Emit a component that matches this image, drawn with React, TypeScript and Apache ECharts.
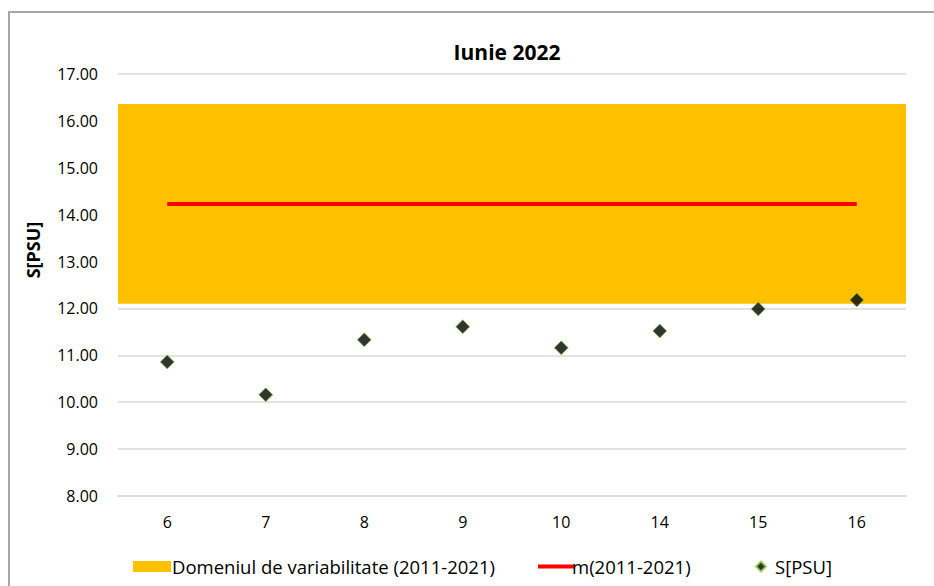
import React, { useEffect, useRef } from "react";
import * as echarts from "echarts";

const categories = ["6", "7", "8", "9", "10", "14", "15", "16"];
const salinity = [10.86, 10.16, 11.33, 11.61, 11.16, 11.52, 11.99, 12.18];
const meanValues = [14.23, 14.23, 14.23, 14.23, 14.23, 14.23, 14.23, 14.23];
const bandLow = 12.1;
const bandHigh = 16.36;
const yTicks = { min: 8, max: 17, interval: 1 };

const BAND = "Domeniul de variabilitate (2011-2021)";
const MEAN = "m(2011-2021)";
const PTS = "S[PSU]";
const FONT = "Open Sans";

export default function App() {
  const ref = useRef<HTMLDivElement>(null);
  useEffect(() => {
    document.body.style.margin = "0";
    const chart = echarts.init(ref.current!, null, { renderer: "svg" });
    const legendText = { fontFamily: FONT, fontSize: 18.5, color: "#000" };
    chart.setOption({
      animation: false,
      backgroundColor: "#fff",
      title: {
        text: "Iunie 2022",
        left: 502,
        top: 36,
        textAlign: "center",
        textStyle: { fontFamily: FONT, fontSize: 21, fontWeight: "bold", color: "#000" },
      },
      graphic: [
        {
          type: "rect",
          shape: { x: 9, y: 12, width: 1000, height: 700 },
          style: { fill: "none", stroke: "#a6a6a6", lineWidth: 2 },
          silent: true,
        },
        {
          type: "text",
          x: 33,
          y: 250,
          rotation: Math.PI / 2,
          style: {
            text: "S[PSU]",
            fontFamily: FONT,
            fontSize: 18,
            fontWeight: "bold",
            fill: "#000",
            textAlign: "center",
            textVerticalAlign: "middle",
          },
        },
      ],
      legend: [
        {
          data: [{ name: BAND, icon: "rect" }],
          left: 128,
          top: 552,
          itemWidth: 38,
          itemHeight: 11,
          textStyle: { ...legendText, padding: [0, 0, 0, -4] },
          selectedMode: false,
        },
        {
          data: [{ name: MEAN, icon: "rect" }],
          left: 533,
          top: 552,
          itemWidth: 37,
          itemHeight: 4,
          textStyle: { ...legendText, padding: [0, 0, 0, -8] },
          selectedMode: false,
        },
        {
          data: [{ name: PTS, icon: "diamond" }],
          left: 750,
          top: 552,
          itemWidth: 10,
          itemHeight: 10,
          textStyle: { ...legendText, padding: [0, 0, 0, 4] },
          selectedMode: false,
        },
      ],
      grid: { left: 118, right: 28, top: 74, bottom: 90, containLabel: false },
      xAxis: {
        type: "category",
        data: categories,
        boundaryGap: true,
        axisLine: { show: true, lineStyle: { color: "#d9d9d9", width: 1.5 } },
        axisTick: { show: false },
        axisLabel: { fontFamily: FONT, fontSize: 16, color: "#000", margin: 18 },
      },
      yAxis: {
        type: "value",
        min: yTicks.min,
        max: yTicks.max,
        interval: yTicks.interval,
        axisLine: { show: false },
        axisTick: { show: false },
        splitLine: { show: true, lineStyle: { color: "#d9d9d9", width: 1.5 } },
        axisLabel: {
          fontFamily: FONT,
          fontSize: 16,
          color: "#000",
          margin: 20,
          formatter: (v: number) => v.toFixed(2),
        },
      },
      series: [
        {
          name: BAND,
          type: "line",
          data: [],
          itemStyle: { color: "#ffc000" },
          lineStyle: { color: "#ffc000" },
          markArea: {
            silent: true,
            itemStyle: { color: "#ffc000", opacity: 1 },
            data: [[{ yAxis: bandLow }, { yAxis: bandHigh }]],
          },
          z: 1,
        },
        {
          name: MEAN,
          type: "line",
          data: meanValues,
          symbol: "none",
          lineStyle: { color: "#ff0000", width: 4 },
          itemStyle: { color: "#ff0000" },
          z: 3,
        },
        {
          name: PTS,
          type: "scatter",
          data: salinity,
          symbol: "diamond",
          symbolSize: 14,
          itemStyle: { color: "#000", borderColor: "#92d050", borderWidth: 1 },
          z: 4,
        },
      ],
    });
    return () => chart.dispose();
  }, []);
  return <div ref={ref} style={{ width: 934, height: 586 }} />;
}
